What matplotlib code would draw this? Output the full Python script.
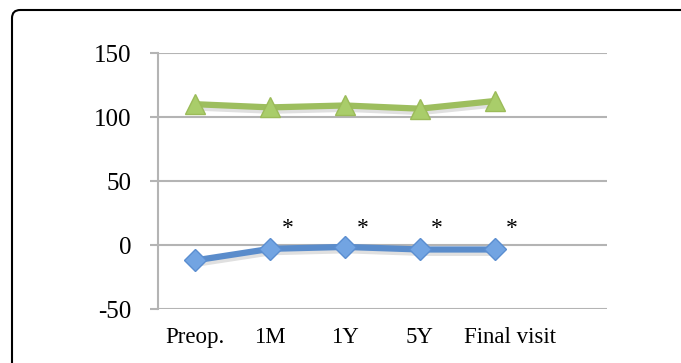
import numpy as np
import matplotlib.pyplot as plt
import matplotlib.transforms as mtransforms
from matplotlib.patches import FancyBboxPatch

plt.rcParams['font.family'] = ['Liberation Serif', 'DejaVu Serif']
plt.rcParams['axes.unicode_minus'] = False

visits = ['Preop.', '1M', '1Y', '5Y', 'Final visit']
green_vals = [110, 107.5, 109, 106.5, 112.5]
blue_vals = [-12, -3, -1.5, -3.5, -3.5]
star_visits = [1, 2, 3, 4]
star_y = 13

fig = plt.figure(figsize=(6.81, 3.63), dpi=100)

# rounded frame around the figure (open to the bottom and right)
frame = FancyBboxPatch((12 / 681, -0.2), 1.1, 1.2 - 10 / 363,
                       boxstyle='round,pad=0,rounding_size=0.012',
                       transform=fig.transFigure, facecolor='none',
                       edgecolor='black', linewidth=1.5, mutation_aspect=681 / 363)
fig.patches.append(frame)

ax = fig.add_axes([158 / 681, 1 - 309 / 363, (607 - 158) / 681, (309 - 53) / 363])

x = np.arange(len(visits))

# soft drop shadow under each line
sh = mtransforms.offset_copy(ax.transData, fig=fig, x=1, y=-3, units='dots')
ax.plot(x, green_vals, color='k', alpha=0.12, lw=5, transform=sh, zorder=2)
ax.plot(x, blue_vals, color='k', alpha=0.12, lw=5, transform=sh, zorder=2)

ax.plot(x, green_vals, color='#9DBE5E', lw=4.5, marker='^', ms=15,
        mfc='#A9CD6A', mec='#9BBB59', mew=1, zorder=3)
ax.plot(x, blue_vals, color='#5A8CCB', lw=4.5, marker='D', ms=11.5,
        mfc='#72A4E2', mec='#5B8ED0', mew=1, zorder=3)

for i in star_visits:
    ax.text(i + 0.23, star_y, '*', ha='center', va='center', fontsize=17)

ax.set_xlim(-0.5, 5.5)
ax.set_ylim(-50, 150)
ax.set_yticks([-50, 0, 50, 100, 150])
ax.set_xticks(x)
ax.set_xticklabels(visits)
ax.grid(axis='y', color='#b4b4b4', lw=1.5)
ax.set_axisbelow(True)
for s in ['top', 'right', 'bottom']:
    ax.spines[s].set_visible(False)
ax.spines['left'].set_color('#b4b4b4')
ax.spines['left'].set_linewidth(1.5)
ax.tick_params(axis='y', length=6, width=1.5, color='#b4b4b4', pad=13, labelsize=18)
ax.tick_params(axis='x', length=0, pad=13, labelsize=16.5)

# the last label sits a little to the right in the original
lab = ax.get_xticklabels()[-1]
lab.set_transform(lab.get_transform() + mtransforms.ScaledTranslation(15 / 100, 0, fig.dpi_scale_trans))

fig.savefig('out.png', dpi=100)
